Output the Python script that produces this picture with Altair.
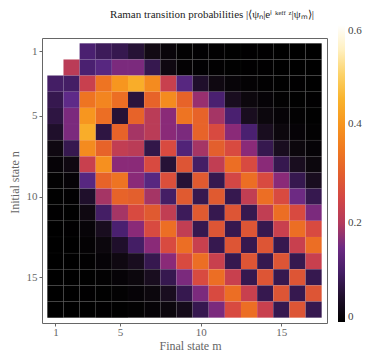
import altair as alt
import pandas as pd

# Raman transition probabilities |<psi_n| e^{i k z} |psi_m>| (rows n = 1..17, cols m = 1..17)
row_1 = [0.62, 0.61, 0.11, 0.09, 0.08, 0.06, 0.03, 0.015, 0.005, 0.004, 0.003, 0.002, 0.001, 0.001, 0, 0, 0]
row_2 = [0.61, 0.21, 0.11, 0.13, 0.16, 0.16, 0.08, 0.025, 0.006, 0.004, 0.003, 0.002, 0.001, 0.001, 0, 0, 0]
row_3 = [0.10, 0.10, 0.23, 0.34, 0.40, 0.44, 0.38, 0.23, 0.13, 0.05, 0.025, 0.012, 0.006, 0.003, 0.002, 0.001, 0]
row_4 = [0.08, 0.14, 0.34, 0.37, 0.33, 0.065, 0.31, 0.38, 0.31, 0.18, 0.11, 0.04, 0.02, 0.01, 0.005, 0.002, 0.001]
row_5 = [0.07, 0.16, 0.40, 0.33, 0.06, 0.31, 0.21, 0.17, 0.34, 0.31, 0.19, 0.11, 0.04, 0.02, 0.01, 0.005, 0.002]
row_6 = [0.05, 0.16, 0.44, 0.07, 0.31, 0.19, 0.21, 0.17, 0.16, 0.31, 0.26, 0.17, 0.11, 0.04, 0.02, 0.01, 0.005]
row_7 = [0.025, 0.08, 0.38, 0.31, 0.22, 0.21, 0.075, 0.26, 0.12, 0.19, 0.30, 0.26, 0.17, 0.08, 0.04, 0.02, 0.01]
row_8 = [0.01, 0.025, 0.23, 0.39, 0.17, 0.17, 0.26, 0.06, 0.28, 0.10, 0.22, 0.33, 0.26, 0.17, 0.08, 0.04, 0.02]
row_9 = [0.005, 0.01, 0.13, 0.31, 0.34, 0.17, 0.13, 0.27, 0.06, 0.29, 0.08, 0.25, 0.33, 0.26, 0.17, 0.08, 0.04]
row_10 = [0.002, 0.003, 0.05, 0.19, 0.31, 0.30, 0.19, 0.10, 0.29, 0.08, 0.29, 0.08, 0.22, 0.33, 0.26, 0.15, 0.08]
row_11 = [0.001, 0.002, 0.025, 0.10, 0.19, 0.26, 0.29, 0.22, 0.09, 0.29, 0.08, 0.28, 0.08, 0.22, 0.33, 0.26, 0.16]
row_12 = [0, 0.001, 0.012, 0.04, 0.11, 0.17, 0.26, 0.33, 0.22, 0.08, 0.28, 0.08, 0.28, 0.08, 0.23, 0.33, 0.26]
row_13 = [0, 0, 0.006, 0.02, 0.05, 0.10, 0.17, 0.26, 0.33, 0.23, 0.08, 0.28, 0.08, 0.28, 0.08, 0.23, 0.33]
row_14 = [0, 0, 0.003, 0.01, 0.025, 0.04, 0.08, 0.17, 0.26, 0.33, 0.23, 0.08, 0.28, 0.08, 0.28, 0.08, 0.23]
row_15 = [0, 0, 0.002, 0.005, 0.01, 0.02, 0.04, 0.08, 0.16, 0.26, 0.33, 0.23, 0.08, 0.28, 0.08, 0.28, 0.08]
row_16 = [0, 0, 0.001, 0.002, 0.005, 0.01, 0.02, 0.04, 0.08, 0.16, 0.26, 0.33, 0.23, 0.08, 0.28, 0.08, 0.28]
row_17 = [0, 0, 0, 0.001, 0.002, 0.005, 0.01, 0.02, 0.035, 0.08, 0.16, 0.26, 0.33, 0.23, 0.08, 0.28, 0.08]

rows = [row_1, row_2, row_3, row_4, row_5, row_6, row_7, row_8, row_9,
        row_10, row_11, row_12, row_13, row_14, row_15, row_16, row_17]

tick_values = [1, 5, 10, 15]
legend_values = [0, 0.2, 0.4, 0.6]
title_text = "Raman transition probabilities |⟨ψₙ|eⁱ ᵏᵉᶠᶠ ᶻ|ψₘ⟩|"

records = []
for i, r in enumerate(rows):
    for j, v in enumerate(r):
        records.append({"n": i + 1, "m": j + 1, "p": v})
df = pd.DataFrame(records)

stops = [0.0, 0.03, 0.06, 0.085, 0.11, 0.14, 0.17, 0.20, 0.23, 0.26, 0.29,
         0.32, 0.35, 0.40, 0.45, 0.50, 0.55, 0.585, 0.60]
colors = ["#000000", "#120a14", "#261236", "#3a1a55", "#4a2070", "#5e2a88",
          "#8a2a78", "#b33a5c", "#c8404e", "#d84a40", "#e05a30", "#ea6826",
          "#f07a20", "#f7961f", "#f9b32c", "#fcd268", "#fff0c0", "#ffffff", "#ffffff"]

FONT = "Liberation Serif"
GRAY = "#666666"

heat = alt.Chart(df).transform_calculate(
    m0="datum.m - 0.5", m1="datum.m + 0.5",
    n0="datum.n - 0.5", n1="datum.n + 0.5",
).mark_rect(stroke="#ffffff", strokeOpacity=0.05, strokeWidth=0.5).encode(
    x=alt.X("m0:Q", scale=alt.Scale(domain=[0.17, 17.83], nice=False, zero=False),
            axis=alt.Axis(values=tick_values, title="Final state m", grid=False, domain=False,
                          tickSize=3, tickColor=GRAY, labelPadding=0, labelFont=FONT,
                          labelFontSize=11, labelColor=GRAY, titleFont=FONT, titleFontSize=12,
                          titleFontWeight="normal", titleColor=GRAY, titleX=148, titleY=22,
                          titleBaseline="middle")),
    x2="m1:Q",
    y=alt.Y("n0:Q", scale=alt.Scale(domain=[0.17, 17.83], nice=False, zero=False, reverse=True),
            axis=alt.Axis(values=tick_values, title="Initial state n", grid=False, domain=False,
                          tickSize=3, tickColor=GRAY, labelPadding=2, labelFont=FONT,
                          labelFontSize=11, labelColor=GRAY, titleFont=FONT, titleFontSize=12,
                          titleFontWeight="normal", titleColor=GRAY, titleX=-28, titleY=144,
                          titleAngle=270, titleAlign="center", titleBaseline="middle")),
    y2="n1:Q",
    color=alt.Color("p:Q", scale=alt.Scale(domain=stops, range=colors, clamp=True,
                                           interpolate="rgb"),
                    legend=alt.Legend(title=None, orient="none", legendX=296, legendY=-13,
                                      direction="vertical", gradientLength=297,
                                      gradientThickness=7, values=legend_values,
                                      labelExpr="datum.value == 0 ? '0' : format(datum.value, '.1f')",
                                      labelFont=FONT, labelFontSize=11, labelColor="#444444",
                                      labelOffset=3, gradientStrokeWidth=0)),
)

title = alt.Chart(pd.DataFrame({"t": [title_text]})).mark_text(
    font=FONT, fontSize=11, color="#222222", align="center", baseline="middle"
).encode(x=alt.value(170), y=alt.value(-23), text="t:N")

chart = alt.layer(heat, title).properties(
    width=285, height=285,
    autosize=alt.AutoSizeParams(type="none"),
    padding={"left": 34, "top": 30, "right": 39, "bottom": 31},
).configure_view(stroke=GRAY, strokeWidth=1)

chart.save("out.html", embed_options={"renderer": "svg", "actions": False})
